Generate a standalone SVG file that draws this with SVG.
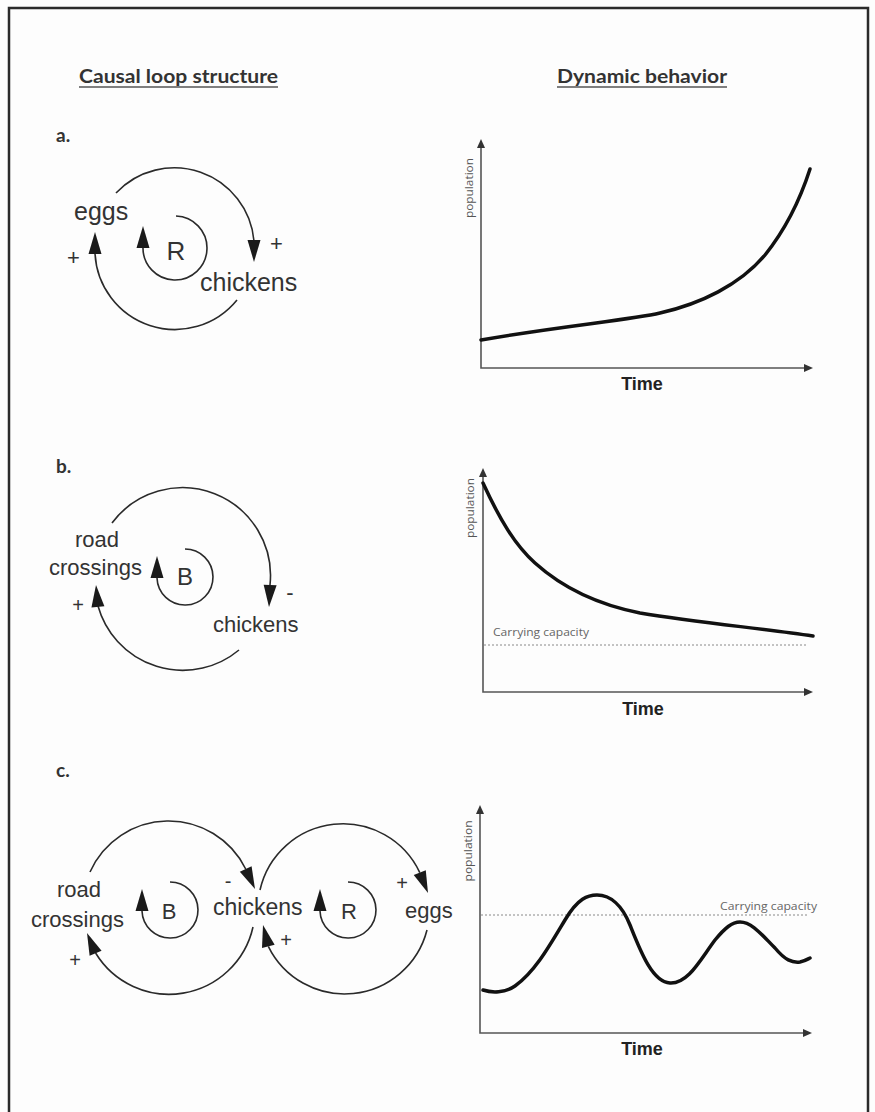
<svg xmlns="http://www.w3.org/2000/svg" xmlns:xlink="http://www.w3.org/1999/xlink" width="875" height="1112" viewBox="0 0 875 1112">
<style>
.head{font-family:Lato,"Open Sans","Liberation Sans",sans-serif;font-weight:bold;font-size:18px;fill:#333}
.sec{font-family:Lato,"Open Sans","Liberation Sans",sans-serif;font-weight:bold;font-size:19px;fill:#333}
.lbl{font-family:"Liberation Sans",Arial,sans-serif;fill:#333}
.arc{fill:none;stroke:#2a2a2a;stroke-width:1.6}
.ah{fill:#1a1a1a}
.axis{fill:none;stroke:#555;stroke-width:1.6}
.axh{fill:#333}
.pop{font-family:"Open Sans","Liberation Sans",sans-serif;font-size:10px;fill:#555}
.time{font-family:"Liberation Sans",Arial,sans-serif;font-weight:bold;font-size:18px;fill:#222}
.cap{font-family:"Open Sans","Liberation Sans",sans-serif;font-size:11px;fill:#666}
.dot{fill:none;stroke:#888;stroke-width:1;stroke-dasharray:2 2}
.curve{fill:none;stroke:#111;stroke-width:3.5;stroke-linecap:round;stroke-linejoin:round}
</style>
<defs>
<polygon id="ah" points="0,0 -22,-6.5 -22,6.5"/>
<polygon id="ax" points="0,0 -9,-4 -9,4"/>
</defs>
<rect x="0" y="0" width="875" height="1112" fill="#fdfdfd"/>
<rect x="9" y="8" width="859" height="1120" fill="none" stroke="#2b2b2b" stroke-width="2.5"/>

<g id="headings">
<text class="head" x="79" y="83" textLength="199" lengthAdjust="spacingAndGlyphs">Causal loop structure</text>
<line x1="79" y1="87" x2="278" y2="87" stroke="#555" stroke-width="1.5"/>
<text class="head" x="557" y="83" textLength="170" lengthAdjust="spacingAndGlyphs">Dynamic behavior</text>
<line x1="557" y1="87" x2="727" y2="87" stroke="#555" stroke-width="1.5"/>
<text class="sec" x="56" y="142">a.</text>
<text class="sec" x="56" y="473">b.</text>
<text class="sec" x="56" y="777">c.</text>
</g>

<!-- Loop a -->
<g id="a-eggs"><text class="lbl" x="74" y="220" font-size="25">eggs</text></g>
<g id="a-chickens"><text class="lbl" x="200" y="291" font-size="25">chickens</text></g>
<g id="a-R"><text class="lbl" x="176" y="260" font-size="26" text-anchor="middle">R</text></g>

<!-- Loop b -->
<g id="b-road"><text class="lbl" font-size="22"><tspan x="75" y="547">road</tspan><tspan x="49" y="575">crossings</tspan></text></g>
<g id="b-chickens"><text class="lbl" x="213" y="632" font-size="22">chickens</text></g>
<g id="b-B"><text class="lbl" x="185" y="585" font-size="24" text-anchor="middle">B</text></g>

<!-- Loop c -->
<g id="c-road"><text class="lbl" font-size="22"><tspan x="57" y="897">road</tspan><tspan x="31" y="927">crossings</tspan></text></g>
<g id="c-chickens"><text class="lbl" x="213" y="915" font-size="23">chickens</text></g>
<g id="c-eggs"><text class="lbl" x="405" y="918" font-size="22">eggs</text></g>
<g id="c-B"><text class="lbl" x="169" y="919" font-size="22" text-anchor="middle">B</text></g>
<g id="c-R"><text class="lbl" x="349" y="919" font-size="22" text-anchor="middle">R</text></g>

<g id="connectors">
<!-- a -->
<path class="arc" d="M116,193 A80,80 0 0,1 254,241"/>
<use href="#ah" class="ah" transform="translate(254,262) rotate(90)"/>
<path class="arc" d="M237,300 A80,80 0 0,1 95,253"/>
<use href="#ah" class="ah" transform="translate(95,232) rotate(-90)"/>
<path class="arc" d="M176,216 A32,32 0 1,1 143,247"/>
<use href="#ah" class="ah" transform="translate(143,226) rotate(-90)"/>
<text class="lbl" x="73.5" y="265" font-size="22" text-anchor="middle">+</text>
<text class="lbl" x="276.5" y="251" font-size="22" text-anchor="middle">+</text>
<!-- b -->
<path class="arc" d="M112,523 A88,88 0 0,1 270,585"/>
<use href="#ah" class="ah" transform="translate(269,607) rotate(93)"/>
<path class="arc" d="M239,650 A88,88 0 0,1 98,606"/>
<use href="#ah" class="ah" transform="translate(96,585) rotate(-95)"/>
<path class="arc" d="M185,549 A28,28 0 1,1 157,578"/>
<use href="#ah" class="ah" transform="translate(157,556) rotate(-90)"/>
<text class="lbl" x="78" y="612" font-size="20" text-anchor="middle">+</text>
<text class="lbl" x="290" y="600" font-size="22" text-anchor="middle">-</text>
<!-- c -->
<path class="arc" d="M90,872 A86,86 0 0,1 245.7,869"/>
<use href="#ah" class="ah" transform="translate(255,889) rotate(65)"/>
<path class="arc" d="M253,927 A86,86 0 0,1 95.6,953"/>
<use href="#ah" class="ah" transform="translate(87,933) rotate(-113)"/>
<path class="arc" d="M170,882 A28,28 0 1,1 142,911"/>
<use href="#ah" class="ah" transform="translate(142,889) rotate(-90)"/>
<path class="arc" d="M260,890 A85,85 0 0,1 419.8,872.6"/>
<use href="#ah" class="ah" transform="translate(428,893) rotate(68)"/>
<path class="arc" d="M427,930 A85,85 0 0,1 268.3,946.3"/>
<use href="#ah" class="ah" transform="translate(263,925) rotate(-104)"/>
<path class="arc" d="M348,882 A28,28 0 1,1 320,911"/>
<use href="#ah" class="ah" transform="translate(320,889) rotate(-90)"/>
<text class="lbl" x="228" y="888" font-size="20" text-anchor="middle">-</text>
<text class="lbl" x="286" y="947" font-size="20" text-anchor="middle">+</text>
<text class="lbl" x="75" y="967" font-size="20" text-anchor="middle">+</text>
<text class="lbl" x="402" y="890" font-size="20" text-anchor="middle">+</text>
</g>

<!-- Graph a -->
<g id="graph-a">
<path class="axis" d="M481,147 L481,368 L805,368"/>
<use href="#ax" class="axh" transform="translate(481,139) rotate(-90)"/>
<use href="#ax" class="axh" transform="translate(813,368)"/>
<text class="pop" transform="translate(473,188) rotate(-90)" text-anchor="middle" textLength="60" lengthAdjust="spacingAndGlyphs">population</text>
<text class="time" x="642" y="390" text-anchor="middle">Time</text>
<path class="curve" d="M481,340 C560,326 630,320 660,313 C700,304 740,285 765,255 C785,230 800,200 810,169"/>
</g>

<!-- Graph b -->
<g id="graph-b">
<path class="axis" d="M483,476 L483,692 L805,692"/>
<use href="#ax" class="axh" transform="translate(483,468) rotate(-90)"/>
<use href="#ax" class="axh" transform="translate(813,692)"/>
<text class="pop" transform="translate(474,508) rotate(-90)" text-anchor="middle" textLength="60" lengthAdjust="spacingAndGlyphs">population</text>
<text class="time" x="643" y="715" text-anchor="middle">Time</text>
<line class="dot" x1="484" y1="645" x2="808" y2="645"/>
<text class="cap" x="493" y="636" textLength="96" lengthAdjust="spacingAndGlyphs">Carrying capacity</text>
<path class="curve" d="M483,483 C500,520 515,545 535,563 C565,590 600,605 640,613 C700,623 760,628 813,636"/>
</g>

<!-- Graph c -->
<g id="graph-c">
<path class="axis" d="M480,813 L480,1033 L804,1033"/>
<use href="#ax" class="axh" transform="translate(480,805) rotate(-90)"/>
<use href="#ax" class="axh" transform="translate(812,1033)"/>
<text class="pop" transform="translate(472,851) rotate(-90)" text-anchor="middle" textLength="61" lengthAdjust="spacingAndGlyphs">population</text>
<text class="time" x="642" y="1055" text-anchor="middle">Time</text>
<line class="dot" x1="481" y1="915" x2="808" y2="915"/>
<text class="cap" x="720" y="910" textLength="97" lengthAdjust="spacingAndGlyphs">Carrying capacity</text>
<path class="curve" d="M483,990 C492,993 505,993 515,986 C535,972 550,945 565,920 C578,898 588,895 597,895 C610,895 622,905 630,925 C640,950 652,982 670,983 C688,984 700,960 715,940 C725,928 732,922 740,922 C752,922 762,935 775,948 C785,960 792,963 800,962 C805,961 808,959 810,958"/>
</g>
</svg>
